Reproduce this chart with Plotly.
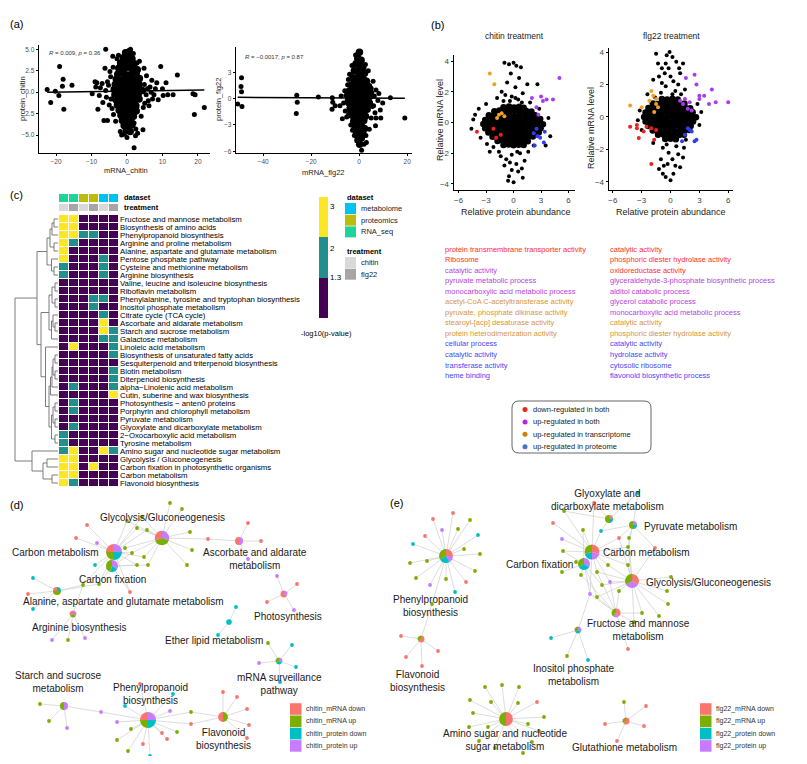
import plotly.graph_objects as go

W, H = 807, 764
OFF = 8                      # the page body margin in the browser
FW, FH = W - 2 * OFF, H - 2 * OFF
FONT = "Liberation Sans"

# ====================== DATA ======================
# (a) log2 fold change: mRNA (x) vs protein (y); dense core and sparse points
a_chitin_dense = [
    (-0.4, 4.6), (0.6, 4.7), (-1.0, 4.0), (0.3, 4.1), (1.4, 3.9), (-1.8, 3.4), (-0.5, 3.3), (0.8, 3.5), (2.0, 3.3),
    (-2.3, 2.8), (-0.9, 2.7), (0.4, 2.9), (1.7, 2.8), (2.9, 2.6), (-2.6, 2.1), (-1.2, 2.2), (0.1, 2.0), (1.3, 2.1),
    (2.6, 2.2), (-3.0, 1.5), (-1.6, 1.4), (-0.3, 1.6), (1.0, 1.5), (2.3, 1.4), (3.5, 1.6), (-3.3, 0.9), (-2.0, 0.8),
    (-0.6, 1.0), (0.7, 0.9), (2.0, 0.8), (3.4, 0.9), (-3.6, 0.3), (-2.2, 0.2), (-0.9, 0.3), (0.4, 0.4), (1.8, 0.2),
    (3.1, 0.3), (4.3, 0.2), (-3.4, -0.3), (-2.0, -0.4), (-0.7, -0.2), (0.6, -0.3), (1.9, -0.4), (3.2, -0.2),
    (-3.1, -0.9), (-1.8, -1.0), (-0.5, -0.8), (0.8, -0.9), (2.1, -1.0), (3.4, -0.8), (-2.7, -1.5), (-1.4, -1.6),
    (-0.1, -1.4), (1.2, -1.5), (2.5, -1.6), (-2.2, -2.1), (-0.9, -2.2), (0.3, -2.0), (1.5, -2.1), (2.6, -2.2),
    (-1.7, -2.7), (-0.5, -2.8), (0.7, -2.6), (1.8, -2.8), (-1.3, -3.3), (-0.1, -3.4), (1.1, -3.2), (-0.8, -3.9),
    (0.4, -4.0), (1.4, -3.8), (-0.2, -4.5), (0.9, -4.6),
]
a_chitin_sparse = [
    (-22.5, 0.3), (-21.5, -1.2), (-20.2, 0.1), (-19.0, 3.0), (-19.2, -0.4), (-18.0, 1.5), (-18.2, 0.7),
    (-17.8, -2.0), (-15.5, 0.8), (-9.8, -0.2), (-8.5, 1.1), (-8.2, -2.0), (-7.5, 0.5), (-6.5, -3.3), (-5.5, -3.3),
    (-6.0, 5.0), (-6.2, 2.8), (-5.5, 1.2), (-5.0, -1.5), (-4.8, 2.4), (-4.5, -0.8), (-4.0, 4.2), (-3.8, -2.6),
    (-1.5, -5.0), (-0.8, -4.9), (0.0, -5.3), (1.0, 5.0), (2.0, -6.5), (2.5, -4.3), (3.0, -4.8), (4.5, -4.4),
    (3.5, 3.6), (4.0, -2.8), (4.8, 2.8), (5.5, 1.9), (5.0, -1.3), (6.0, -1.0), (6.5, 0.6), (7.0, 1.4), (7.2, -0.8),
    (8.0, 0.4), (9.5, 3.0), (10.0, 0.4), (10.2, -0.4), (11.0, 1.1), (11.5, -0.3), (13.0, -0.3), (14.2, 2.0),
    (18.6, -0.2), (19.2, -0.3), (19.0, -2.6), (21.8, -1.8), (-2.8, 3.9), (2.8, 3.4), (-3.2, -3.4), (2.0, -3.6),
    (-9.0, 1.2), (-8.8, 0.6), (-7.8, -0.4), (-7.0, 1.0), (-6.8, -1.2), (-6.0, 0.2), (-5.8, -0.6), (-5.2, 0.8),
    (-4.6, 1.8), (-4.2, -1.9), (-3.9, 2.9), (4.6, -1.8), (4.9, 0.9), (5.4, -0.3), (5.8, 0.4), (6.2, -1.6),
    (6.8, 0.0), (7.6, -0.3), (8.4, 1.1), (8.8, -0.9), (-2.4, 4.3), (1.8, 4.5), (-1.9, -4.6), (2.4, -5.1),
]
a_flg22_dense = [
    (0.1, 5.3), (-0.6, 4.6), (0.8, 4.4), (-1.3, 4.0), (0.2, 3.8), (1.5, 3.6), (-2.0, 3.2), (-0.6, 3.1), (0.9, 3.0),
    (2.2, 2.9), (-2.6, 2.4), (-1.1, 2.3), (0.4, 2.4), (1.8, 2.2), (3.0, 2.0), (-3.1, 1.6), (-1.6, 1.7), (-0.2, 1.6),
    (1.2, 1.7), (2.6, 1.5), (3.9, 1.4), (-4.0, 0.9), (-2.6, 1.0), (-1.2, 0.9), (0.2, 1.0), (1.6, 0.9), (3.0, 0.8),
    (4.4, 0.7), (-4.4, 0.2), (-3.0, 0.3), (-1.6, 0.2), (-0.2, 0.3), (1.2, 0.2), (2.6, 0.1), (4.0, 0.2), (-4.2, -0.5),
    (-2.8, -0.4), (-1.4, -0.5), (0.0, -0.4), (1.4, -0.5), (2.8, -0.6), (4.2, -0.5), (-3.7, -1.2), (-2.3, -1.1),
    (-0.9, -1.2), (0.5, -1.1), (1.9, -1.3), (3.3, -1.2), (-3.0, -1.9), (-1.6, -1.8), (-0.2, -1.9), (1.2, -1.8),
    (2.6, -2.0), (-2.3, -2.6), (-0.9, -2.5), (0.5, -2.6), (1.9, -2.5), (-1.7, -3.2), (-0.3, -3.3), (1.0, -3.2),
    (2.2, -3.4), (-1.1, -3.9), (0.3, -4.0), (1.5, -3.9), (-0.4, -4.6), (0.9, -4.5), (0.2, -5.2),
]
a_flg22_sparse = [
    (-49.0, 2.4), (-49.2, 1.4), (-49.0, 0.8), (-48.8, -0.9), (-50.6, -0.6), (-26.0, 0.4), (-25.8, -0.4),
    (-26.2, -1.7), (-17.0, 0.2), (-11.2, 0.1), (-11.0, -0.4), (-11.3, -1.2), (-10.0, -0.8), (-8.0, -0.8),
    (-7.0, -2.3), (-5.2, -2.1), (-6.0, 0.9), (-4.8, 1.6), (-4.2, -1.0), (-4.0, 2.8), (-3.5, -3.0), (5.0, -2.2),
    (7.0, -2.2), (9.0, -2.2), (6.8, -3.1), (8.8, -1.3), (9.8, -0.5), (7.0, 1.0), (5.8, 2.0), (5.0, 1.2), (4.5, -0.4),
    (6.0, -0.8), (13.0, 0.1), (19.0, -2.2), (3.0, -5.0), (2.0, -5.2), (1.0, -5.9), (-1.0, -4.8), (-2.0, -4.2),
    (3.8, 3.2), (4.2, -3.5), (-1.5, 5.0),
    (-7.5, 0.3), (-6.5, -0.5), (-5.8, -1.4), (-5.5, 0.4), (-5.0, -0.2), (-4.6, 0.6), (-4.5, 2.2), (-4.4, -1.8),
    (5.0, 0.2), (5.5, -0.9), (5.2, 0.7), (6.3, 0.3), (6.6, -1.6), (7.8, -0.2), (8.2, 0.6), (-3.0, 3.8), (2.6, 3.9),
    (-2.8, -3.6), (2.8, -4.2),
]
a_chitin_fit = [0.12, 0.006]     # intercept, slope
a_flg22_fit = [0.08, -0.0014]
a_chitin_label = "<i>R</i> = 0.009, <i>p</i> = 0.36"
a_flg22_label = "<i>R</i> = −0.0017, <i>p</i> = 0.87"

# (b) relative protein abundance (x) vs relative mRNA level (y)
b_chitin_dense = [
    (-1.1, 1.0), (-0.5, 1.04), (0.05, 0.98), (0.6, 1.02), (1.1, 0.96),
    (-2.1, 0.74), (-1.55, 0.78), (-1.0, 0.75), (-0.4, 0.72), (0.2, 0.79), (0.8, 0.74), (1.35, 0.77), (1.95, 0.72),
    (-2.7, 0.47), (-2.2, 0.44), (-1.6, 0.5), (-1.05, 0.46), (-0.5, 0.49), (0.1, 0.43), (0.65, 0.48), (1.25, 0.45),
    (1.8, 0.5), (2.35, 0.47),
    (-3.1, 0.17), (-2.6, 0.21), (-2.05, 0.19), (-1.5, 0.16), (-0.95, 0.22), (-0.4, 0.18), (0.2, 0.2), (0.75, 0.15),
    (1.3, 0.21), (1.85, 0.19), (2.45, 0.17), (2.9, 0.22),
    (-3.3, -0.1), (-2.8, -0.13), (-2.25, -0.08), (-1.7, -0.12), (-1.15, -0.09), (-0.6, -0.11), (0.0, -0.1),
    (0.55, -0.07), (1.1, -0.12), (1.7, -0.09), (2.25, -0.11), (2.8, -0.08), (3.2, -0.12),
    (-3.1, -0.38), (-2.6, -0.41), (-2.05, -0.36), (-1.5, -0.4), (-0.95, -0.37), (-0.4, -0.39), (0.2, -0.35),
    (0.75, -0.41), (1.3, -0.38), (1.85, -0.36), (2.45, -0.4), (2.95, -0.37),
    (-2.75, -0.66), (-2.2, -0.64), (-1.7, -0.69), (-1.15, -0.65), (-0.6, -0.68), (0.0, -0.64), (0.55, -0.67),
    (1.1, -0.63), (1.7, -0.68), (2.25, -0.66), (2.75, -0.65),
    (-2.3, -0.93), (-1.75, -0.91), (-1.2, -0.96), (-0.65, -0.92), (-0.1, -0.95), (0.45, -0.9), (1.0, -0.94),
    (1.55, -0.96), (2.1, -0.91),
    (-1.75, -1.2), (-1.2, -1.18), (-0.65, -1.23), (-0.1, -1.19), (0.45, -1.21), (1.0, -1.17), (1.55, -1.22),
    (-1.1, -1.46), (-0.55, -1.44), (0.0, -1.49), (0.55, -1.45), (1.1, -1.47),
]
b_chitin_sparse = [
    (-4.6, -0.4), (-4.4, 0.2), (-4.2, 0.5), (-3.8, 0.9), (-3.6, -1.0), (-3.0, 1.2), (-2.6, -1.9), (-2.2, -1.6),
    (-1.8, 1.6), (-1.3, 2.0), (-1.0, 3.9), (-0.7, 2.6), (-0.5, 3.8), (-0.3, 3.2), (-0.2, 1.7), (0.0, 3.9),
    (0.2, 2.3), (0.3, 3.7), (0.6, 2.9), (0.8, 3.6), (0.5, 1.5), (1.0, 1.9), (1.5, 2.5), (1.8, 1.3), (2.6, 2.5),
    (2.8, 0.9), (3.5, -1.5), (4.0, -0.9), (3.8, 0.3), (-0.5, -3.5), (0.0, -3.9), (-0.6, -3.8), (0.5, -3.2),
    (0.9, -3.0), (-1.0, -2.8), (1.2, -2.5), (0.7, -2.0), (-0.8, -2.4), (-0.2, -2.1), (0.3, -2.7), (1.6, -1.9),
    (-1.6, -1.9), (2.2, -1.5), (-2.9, -1.4), (-1.1, 1.4), (0.9, 1.3), (-0.4, 1.4), (-0.9, 1.8), (0.2, 1.6),
    (-0.4, -2.6), (0.4, -1.9), (-0.2, -3.1), (1.0, -3.6), (-1.4, -2.2),
]
b_chitin_down_both = [(-4.0, -0.6), (-1.9, -1.0), (-1.4, -0.8), (-2.2, -0.4)]
b_chitin_up_both = [(5.0, 2.9), (2.0, 1.6), (3.0, 1.7), (3.2, 1.4), (3.6, 1.5), (4.3, 1.5), (2.7, 0.5), (2.5, 1.0)]
b_chitin_up_tx = [(-2.6, 3.2), (-2.1, 2.5), (-1.6, 0.5), (-1.3, 0.6), (-1.0, 0.4), (-1.8, 0.3)]
b_chitin_up_prot = [(2.5, -0.4), (2.6, -0.9), (2.9, -1.0), (3.3, -1.3), (3.4, -0.6), (2.3, -1.5), (2.2, -0.7)]

b_flg22_dense = [
    (-0.9, 1.1), (-0.35, 1.07), (0.2, 1.12), (0.75, 1.08),
    (-1.85, 0.83), (-1.3, 0.8), (-0.75, 0.85), (-0.2, 0.81), (0.35, 0.84), (0.9, 0.79), (1.45, 0.83),
    (-2.3, 0.56), (-1.75, 0.58), (-1.2, 0.53), (-0.65, 0.57), (-0.1, 0.54), (0.45, 0.59), (1.0, 0.55), (1.55, 0.56),
    (2.05, 0.54),
    (-2.6, 0.28), (-2.05, 0.26), (-1.5, 0.31), (-0.95, 0.27), (-0.4, 0.29), (0.15, 0.25), (0.7, 0.3), (1.25, 0.28),
    (1.8, 0.26), (2.3, 0.29),
    (-2.75, 0.0), (-2.2, 0.03), (-1.65, -0.02), (-1.1, 0.01), (-0.55, -0.03), (0.0, 0.02), (0.55, -0.01),
    (1.1, 0.03), (1.65, -0.02), (2.2, 0.01), (2.65, -0.01),
    (-2.6, -0.28), (-2.05, -0.3), (-1.5, -0.26), (-0.95, -0.29), (-0.4, -0.27), (0.15, -0.31), (0.7, -0.28),
    (1.25, -0.26), (1.8, -0.29), (2.35, -0.28),
    (-2.3, -0.56), (-1.75, -0.54), (-1.2, -0.59), (-0.65, -0.55), (-0.1, -0.57), (0.45, -0.53), (1.0, -0.58),
    (1.55, -0.56), (2.1, -0.55),
    (-1.85, -0.83), (-1.3, -0.85), (-0.75, -0.81), (-0.2, -0.84), (0.35, -0.82), (0.9, -0.86), (1.45, -0.83),
    (1.95, -0.8),
    (-1.3, -1.1), (-0.75, -1.08), (-0.2, -1.12), (0.35, -1.09), (0.9, -1.11), (1.4, -1.1),
    (-0.55, -1.36), (0.0, -1.34), (0.55, -1.38),
]
b_flg22_sparse = [
    (-1.5, 3.9), (-0.1, 4.0), (-0.4, 3.8), (0.2, 3.7), (0.6, 3.4), (-0.9, 3.0), (-1.3, 3.3), (1.0, 2.7),
    (-1.2, 2.5), (0.3, 2.2), (-0.5, 1.9), (0.8, 2.0), (1.3, 3.3), (-1.8, 2.3), (-0.6, 2.7), (0.5, 1.6), (-0.2, 3.0),
    (1.5, 1.7), (-2.4, 1.4), (-3.2, 0.4), (-3.4, -0.2), (-3.0, -0.8), (3.0, -0.5), (3.2, 0.3), (2.8, 0.8),
    (-0.8, -1.9), (0.6, -1.8), (-1.0, -2.6), (-0.5, -3.7), (0.0, -3.9), (0.3, -3.5), (0.5, -3.0), (1.0, -3.1),
    (-1.2, -3.2), (0.8, -2.3), (-0.2, -2.2), (-0.3, -2.9), (1.3, -2.5), (-0.8, -3.5), (1.6, -1.4), (-1.8, -1.6),
    (-1.0, 1.5), (0.2, 1.4), (1.1, 1.4), (-1.6, 1.2), (-0.9, 2.1), (0.0, 2.5), (-0.5, 3.3), (0.9, 3.0),
    (-0.4, -1.7), (0.2, -2.6), (-0.7, -3.0), (1.4, -1.9),
]
b_flg22_down_both = [(-4.2, -0.6), (-3.5, -0.5), (-3.5, -0.7), (-3.3, -1.3), (-2.8, -0.9), (-2.5, -0.6),
                     (-2.0, -0.7), (-1.7, -1.4), (-2.0, -2.9), (-1.5, -0.8)]
b_flg22_up_both = [(1.0, 1.0), (1.3, 0.8), (1.5, 1.1), (2.0, 0.9), (2.5, 2.6), (2.7, 2.0), (3.0, 1.1), (3.0, 1.3),
                   (3.5, 1.3), (4.0, 0.8), (4.3, 1.7), (4.7, 0.9), (6.0, 0.9), (1.6, 2.4), (1.8, 0.5), (2.2, 0.4)]
b_flg22_up_tx = [(-4.2, 0.7), (-3.0, 0.6), (-2.0, 1.6), (-1.8, 1.3), (-1.5, 0.8), (-1.3, 0.6), (-1.7, 0.3),
                 (-2.2, 1.0), (-1.5, 1.1)]
b_flg22_up_prot = [(1.5, -1.1), (2.0, -0.8), (2.2, -0.9), (2.5, -1.5), (2.7, -1.4), (1.2, -1.5), (1.8, -0.7)]

b_group_names = ["down-regulated in both", "up-regulated in both",
                 "up-regulated in transcriptome", "up-regulated in proteome"]

# GO / KEGG terms listed under (b)
go_col1_terms = ["protein transmembrane transporter activity", "Ribosome", "catalytic activity",
                 "pyruvate metabolic process", "monocarboxylic acid metabolic process",
                 "acetyl-CoA C-acetyltransferase activity", "pyruvate, phosphate dikinase activity",
                 "stearoyl-[acp] desaturase activity", "protein heterodimerization activity",
                 "cellular process", "catalytic activity", "transferase activity", "heme binding"]
go_col1_groups = [0, 0, 1, 1, 1, 2, 2, 2, 2, 3, 3, 3, 3]
go_col2_terms = ["catalytic activity", "phosphoric diester hydrolase activity", "oxidoreductase activity",
                 "glyceraldehyde-3-phosphate biosynthetic process", "alditol catabolic process",
                 "glycerol catabolic process", "monocarboxylic acid metabolic process", "catalytic activity",
                 "phosphoric diester hydrolase activity", "catalytic activity", "hydrolase activity",
                 "cytosolic ribosome", "flavonoid biosynthetic process"]
go_col2_groups = [0, 0, 0, 1, 1, 1, 1, 2, 2, 3, 3, 3, 3]

# (c) KEGG enrichment heatmap: P = 1.3-2, T = 2-3, Y = >3  (-log10 p)
heat_pathways = [
    "Fructose and mannose metabolism", "Biosynthesis of amino acids", "Phenylpropanoid biosynthesis",
    "Arginine and proline metabolism", "Alanine, aspartate and glutamate metabolism", "Pentose phosphate pathway",
    "Cysteine and methionine metabolism", "Arginine biosynthesis", "Valine, leucine and isoleucine biosynthesis",
    "Riboflavin metabolism", "Phenylalanine, tyrosine and tryptophan biosynthesis", "Inositol phosphate metabolism",
    "Citrate cycle (TCA cycle)", "Ascorbate and aldarate metabolism", "Starch and sucrose metabolism",
    "Galactose metabolism", "Linoleic acid metabolism", "Biosynthesis of unsaturated fatty acids",
    "Sesquiterpenoid and triterpenoid biosynthesis", "Biotin metabolism", "Diterpenoid biosynthesis",
    "alpha−Linolenic acid metabolism", "Cutin, suberine and wax biosynthesis", "Photosynthesis − anten0 proteins",
    "Porphyrin and chlorophyll metabolism", "Pyruvate metabolism", "Glyoxylate and dicarboxylate metabolism",
    "2−Oxocarboxylic acid metabolism", "Tyrosine metabolism", "Amino sugar and nucleotide sugar metabolism",
    "Glycolysis / Gluconeogenesis", "Carbon fixation in photosynthetic organisms", "Carbon metabolism",
    "Flavonoid biosynthesis",
]
heat_levels = [
    "YYPPPP", "YYPPPP", "YYTTPP", "YTPPPP", "YPPPPP", "YPPPTP", "TPPPTP", "TPPPTP", "PPPPPP", "PPPPPP",
    "PPPTTP", "PPPTPP", "PPPPTP", "PPPPYP", "PPPPYT", "PPPPTT", "PYPPPT", "PPPPPT", "PPPPPP", "PPPPPT",
    "PPPPPT", "PTPPPT", "PPPPPY", "PTPPPP", "PTPPPP", "PPPPPP", "PTPPPP", "TPPPPP", "TPPPPP", "TYPPYT",
    "YYPPPP", "YYPYPP", "YYPPPP", "YTPPPP",
]
heat_level_names = ["P", "T", "Y"]
heat_legend_ticks = ["1.3", "2", "3"]
col_dataset = ["RNA_seq", "RNA_seq", "proteomics", "proteomics", "metabolome", "metabolome"]
col_treatment = ["chitin", "flg22", "chitin", "flg22", "chitin", "flg22"]
dataset_levels = ["metabolome", "proteomics", "RNA_seq"]
treatment_levels = ["chitin", "flg22"]
# row dendrogram: (merge height, left, right); leaves are row indices
heat_tree = (43,
             (21,
              (11, (8, (6, (4, 0, 1), 2), (4, 3, 4)), (6.5, 5, (4, 6, 7))),
              (17,
               (9, (6, (3, 8, 9), (3, 10, 11)), (6.5, (5, 12, (3, 13, 14)), 15)),
               (12.5, 16,
                (9, (7.5, (6, (5, (3, 17, 18), (3, 19, 20)), 21), 22),
                 (6.5, (5, (3, 23, 24), (3, 25, 26)), (3, 27, 28)))))),
             (26, 29, (15, (11, 30, 31), (6, 32, 33))))

# (d)/(e) gene-concept networks; categories: mRNA down, mRNA up, protein down, protein up
net_cats = ["mRNA down", "mRNA up", "protein down", "protein up"]
d_hub_names = ["Glycolysis/Gluconeogenesis", "Carbon metabolism", "Carbon fixation",
               "Ascorbate and aldarate<br>metabolism", "Alanine, aspartate and glutamate metabolism",
               "Arginine biosynthesis", "Photosynthesis", "Ether lipid metabolism",
               "mRNA surveillance<br>pathway", "Starch and sucrose<br>metabolism",
               "Phenylpropanoid<br>biosynthesis", "Flavonoid<br>biosynthesis"]
d_hub_x = [162, 114, 112, 239, 57, 73, 284, 229, 279, 64, 148, 223]
d_hub_y = [53, 67, 81, 56, 106, 129, 109, 137, 176, 221, 235, 232]
d_hub_counts = [[4, 5, 0, 4], [4, 4, 4, 4], [0, 4, 2, 3], [2, 0, 0, 2], [1, 2, 1, 0], [1, 1, 0, 1],
                [2, 0, 0, 1], [0, 0, 2, 0], [0, 1, 1, 1], [0, 2, 0, 2], [4, 4, 4, 4], [3, 3, 0, 0]]
d_label_x = [162, 55, 112, 255, 123, 79, 288, 214, 279, 58, 150, 223]
d_label_y = [32, 67, 94, 73.5, 116, 142, 131, 155, 199, 196.5, 209, 254]
d_genes = [
    (170, 18, 1, [0]), (182, 24, 1, [0]), (142, 32, 1, [0, 1]), (127, 36, 1, [1, 0]), (137, 43, 1, [0, 1]),
    (147, 45, 1, [0, 1]), (190, 47, 1, [0]), (208, 54, 0, [0, 3]), (192, 65, 1, [0]), (187, 80, 1, [0]),
    (87, 40, 0, [1]), (76, 53, 0, [1]), (97, 58, 3, [1]), (125, 63, 1, [0, 1]), (132, 68, 1, [0, 1, 2]),
    (144, 72, 1, [0, 1]), (137, 80, 1, [1, 2]), (148, 80, 1, [0, 2]), (95, 80, 2, [1]), (130, 107, 0, [1, 2]),
    (83, 100, 1, [1, 4, 5]), (99, 99, 1, [1, 2, 4]), (248, 38, 0, [3]), (261, 56, 0, [3]), (248, 74, 3, [3]),
    (33, 93, 2, [4]), (28, 109, 0, [4]), (33, 124, 2, [4]), (52, 155, 3, [5]), (68, 155, 1, [5]), (85, 153, 3, [5]),
    (277, 91, 3, [6]), (297, 99, 0, [6]), (267, 117, 0, [6]), (294, 125, 3, [6]), (236, 122, 2, [7]),
    (218, 150, 2, [7]), (268, 158, 1, [8]), (292, 160, 2, [8]), (259, 178, 3, [8]), (296, 182, 2, [8]),
    (280, 197, 2, [8]), (40, 219, 1, [9]), (49, 236, 1, [9]), (67, 243, 3, [9]), (101, 227, 3, [9, 10]),
    (140, 199, 0, [10]), (173, 209, 2, [10]), (125, 221, 2, [10]), (117, 237, 3, [10]), (170, 226, 3, [10]),
    (131, 244, 1, [10]), (117, 255, 1, [10]), (143, 259, 0, [10]), (162, 248, 0, [10]), (167, 254, 0, [10]),
    (177, 247, 1, [10]), (128, 266, 1, [10]), (150, 271, 2, [10]), (191, 227, 1, [10, 11]), (191, 239, 0, [10, 11]),
    (223, 207, 0, [11]), (237, 212, 0, [11]), (247, 224, 0, [11]), (249, 240, 0, [11]), (247, 253, 0, [11]),
]
e_hub_names = ["Phenylpropanoid<br>biosynthesis", "Flavonoid<br>biosynthesis",
               "Glyoxylate and<br>dicarboxylate metabolism", "Pyruvate metabolism", "Carbon metabolism",
               "Carbon fixation", "Glycolysis/Gluconeogenesis", "Fructose and mannose<br>metabolism",
               "Inositol phosphate<br>metabolism", "Amino sugar and nucleotide<br>sugar metabolism",
               "Glutathione metabolism"]
e_hub_x = [56, 31, 219, 243, 202, 194, 242, 226, 188, 116, 236]
e_hub_y = [71, 154, 34, 40, 67, 79, 96, 128, 145, 234, 236]
e_hub_counts = [[3, 4, 3, 2], [2, 1, 0, 0], [1, 2, 1, 0], [0, 2, 1, 1], [4, 4, 3, 3], [0, 3, 3, 3],
                [4, 4, 0, 4], [2, 2, 0, 1], [0, 1, 1, 1], [6, 6, 0, 0], [2, 1, 0, 0]]
e_label_x = [40, 27, 217, 252, 211, 185, 254, 248, 184, 115, 234]
e_label_y = [120.5, 195.5, 15, 41, 67, 79, 97, 145, 189.5, 255, 262]
e_label_anchor = ["center", "center", "center", "left", "left", "right", "left", "center", "center", "center",
                  "center"]
e_genes = [
    (63, 28, 0, [0]), (43, 34, 0, [0]), (80, 35, 1, [0]), (52, 45, 3, [0]), (68, 44, 1, [0]), (35, 51, 0, [0]),
    (88, 50, 2, [0]), (23, 59, 2, [0]), (74, 64, 1, [0]), (90, 69, 1, [0]), (37, 76, 1, [0]), (20, 78, 1, [0]),
    (85, 86, 1, [0]), (26, 93, 1, [0]), (56, 94, 1, [0]), (40, 100, 3, [0]), (76, 97, 0, [0]), (65, 107, 2, [0]),
    (42, 119, 1, [0, 1]), (11, 151, 0, [1]), (48, 166, 0, [1]), (16, 172, 0, [1]), (32, 181, 0, [1]),
    (95, 202, 1, [9]), (112, 200, 1, [9]), (129, 202, 1, [9]), (80, 215, 1, [9]), (101, 217, 1, [9]),
    (128, 218, 1, [9]), (147, 217, 0, [9]), (83, 228, 1, [9]), (154, 232, 1, [9]), (79, 242, 1, [9]),
    (98, 242, 1, [9]), (138, 239, 1, [9]), (149, 246, 1, [9]), (89, 256, 1, [9]), (105, 263, 1, [9]),
    (133, 268, 1, [9]), (142, 257, 1, [9]),
    (234, 217, 1, [10]), (256, 221, 0, [10]), (215, 239, 0, [10]), (254, 241, 0, [10]), (227, 256, 0, [10]),
    (163, 38, 0, [4]), (174, 26, 1, [4, 2]), (204, 18, 0, [2, 4]), (248, 8, 2, [3, 2]), (193, 45, 1, [4, 5]),
    (211, 46, 2, [2, 4, 3]), (172, 54, 3, [4]), (173, 66, 1, [4, 5]), (229, 53, 0, [3, 4, 6]), (239, 53, 1, [3, 6]),
    (238, 62, 1, [3, 6, 4]), (265, 63, 0, [6, 3]), (186, 77, 1, [5]), (172, 87, 1, [5]), (218, 80, 1, [4, 6]),
    (238, 80, 1, [4, 6]), (207, 87, 1, [4, 7, 6]), (191, 90, 1, [5, 7]), (281, 92, 1, [6]), (212, 100, 1, [5, 6]),
    (220, 97, 3, [4, 6, 7]), (229, 106, 1, [6, 7]), (277, 106, 1, [6]), (200, 109, 3, [4, 5, 7, 8]),
    (207, 112, 1, [5, 6, 7]), (278, 119, 1, [6]), (252, 128, 1, [6, 7]), (269, 131, 1, [6]), (244, 137, 1, [7, 6]),
    (238, 164, 0, [7]), (161, 153, 2, [8]), (177, 171, 1, [8]), (198, 175, 2, [8]),
]

# ====================== STYLE ======================
PT_GROUP_COLORS = ["#F02020", "#A93CF0", "#F0A02A", "#2F3FF0"]
GO_TEXT_COLORS = ["#FF2E2E", "#B43FE0", "#D9953A", "#4747F5"]
LEG_DOT_COLORS = ["#E7261E", "#C21FE6", "#D07F0E", "#4472C4"]
HEAT_COLORS = {"P": "#440154", "T": "#21908C", "Y": "#FDE725"}
DATASET_COLORS = {"metabolome": "#00C2F2", "proteomics": "#BCBD0A", "RNA_seq": "#20D39B"}
TREAT_COLORS = {"chitin": "#D9D9D9", "flg22": "#A6A6A6"}
NET_COLORS = ["#F8766D", "#7CAE00", "#00BFC4", "#C77CFF"]


def fx(px):
    return (px - OFF) / FW


def fy(py):
    return 1 - (py - OFF) / FH


def xdom(a, b):
    return [fx(a), fx(b)]


def ydom(top, bottom):
    return [fy(bottom), fy(top)]


fig = go.Figure()
annotations = []
shapes = []


def ann(text, px, py, size=8, color="black", xanchor="center", yanchor="middle", angle=0, xref="paper",
        yref="paper"):
    x = fx(px) if xref == "paper" else px
    y = fy(py) if yref == "paper" else py
    annotations.append(dict(text=text, x=x, y=y, xref=xref, yref=yref, showarrow=False, xanchor=xanchor,
                            yanchor=yanchor, textangle=angle, font=dict(size=size, color=color, family=FONT)))


def col(pts, i):
    return [p[i] for p in pts]


def sc_axis(dom, rng, tickvals, ticktext, fs, tc, anchor):
    return dict(domain=dom, range=rng, showline=True, linecolor="black", linewidth=0.8, ticks="outside",
                ticklen=2.5, tickwidth=0.8, tickcolor="black", tickvals=tickvals, ticktext=ticktext,
                tickfont=dict(size=fs, color=tc, family=FONT), showgrid=False, zeroline=False, automargin=False,
                anchor=anchor)


# ---------------- (a) ----------------
for dense, sparse, fit, ax in [(a_chitin_dense, a_chitin_sparse, a_chitin_fit, ""),
                               (a_flg22_dense, a_flg22_sparse, a_flg22_fit, "2")]:
    for pts, sz in [(dense, 7.5), (sparse, 5)]:
        fig.add_trace(go.Scatter(x=col(pts, 0), y=col(pts, 1), mode="markers", xaxis="x" + ax, yaxis="y" + ax,
                                 marker=dict(color="black", size=sz, line=dict(width=0)), showlegend=False))
    allx = col(dense, 0) + col(sparse, 0)
    x0, x1 = min(allx), max(allx)
    fig.add_trace(go.Scatter(x=[x0, x1], y=[fit[0] + fit[1] * x0, fit[0] + fit[1] * x1], mode="lines",
                             xaxis="x" + ax, yaxis="y" + ax, line=dict(color="black", width=1.5),
                             showlegend=False))

# ---------------- (b) ----------------
for groups, ax in [([b_chitin_dense, b_chitin_sparse, b_chitin_down_both, b_chitin_up_both, b_chitin_up_tx,
                     b_chitin_up_prot], "3"),
                   ([b_flg22_dense, b_flg22_sparse, b_flg22_down_both, b_flg22_up_both, b_flg22_up_tx,
                     b_flg22_up_prot], "4")]:
    colors = ["black", "black"] + PT_GROUP_COLORS
    sizes = [6.5, 4, 4, 4, 4, 4]
    for pts, c, sz in zip(groups, colors, sizes):
        fig.add_trace(go.Scatter(x=col(pts, 0), y=col(pts, 1), mode="markers", xaxis="x" + ax, yaxis="y" + ax,
                                 marker=dict(color=c, size=sz, line=dict(width=0)), showlegend=False))

# ---------------- (c) heatmap ----------------
lvl_val = {k: i + 0.5 for i, k in enumerate(heat_level_names)}
hz = [[lvl_val[ch] for ch in row] for row in heat_levels]
P, T, Y = HEAT_COLORS["P"], HEAT_COLORS["T"], HEAT_COLORS["Y"]
bar_top, bar_bot = 197, 318
tick_pos = {"1.3": 277, "2": 248, "3": 206}
fig.add_trace(go.Heatmap(
    z=hz, x=list(range(6)), y=list(range(len(heat_pathways))), zmin=0, zmax=3,
    colorscale=[[0, P], [1 / 3, P], [1 / 3, T], [2 / 3, T], [2 / 3, Y], [1, Y]],
    xgap=1, ygap=1, xaxis="x5", yaxis="y5", hoverinfo="skip",
    colorbar=dict(x=fx(319), xanchor="left", y=fy(bar_bot), yanchor="bottom", len=bar_bot - bar_top,
                  lenmode="pixels", thickness=9, thicknessmode="pixels", outlinewidth=0, xpad=0, ypad=0,
                  tickvals=[3 * (bar_bot - tick_pos[t]) / (bar_bot - bar_top) for t in heat_legend_ticks],
                  ticktext=heat_legend_ticks, ticks="", tickfont=dict(size=8, color="black", family=FONT))))

ann_levels = dataset_levels + treatment_levels
ann_colors = [DATASET_COLORS[k] for k in dataset_levels] + [TREAT_COLORS[k] for k in treatment_levels]
nlev = len(ann_levels)
ann_cs = []
for i, c in enumerate(ann_colors):
    ann_cs += [[i / nlev, c], [(i + 1) / nlev, c]]
az = [[ann_levels.index(d) for d in col_dataset], [ann_levels.index(t) for t in col_treatment]]
fig.add_trace(go.Heatmap(z=az, x=list(range(6)), y=[0, 1], zmin=-0.5, zmax=nlev - 0.5, colorscale=ann_cs,
                         showscale=False, xgap=1, ygap=2, xaxis="x6", yaxis="y6", hoverinfo="skip"))

# dendrogram
dx, dy = [], []


def walk(node):
    if isinstance(node, int):
        return 0, node
    h, l, r = node
    hl, yl = walk(l)
    hr, yr = walk(r)
    dx.extend([hl, h, h, hr, None])
    dy.extend([yl, yl, yr, yr, None])
    return h, (yl + yr) / 2


walk(heat_tree)
fig.add_trace(go.Scatter(x=dx, y=dy, mode="lines", xaxis="x7", yaxis="y7",
                         line=dict(color="#6E6E6E", width=0.9), showlegend=False, hoverinfo="skip"))


# ---------------- (d)/(e) networks ----------------
def network(hx, hy, counts, genes, ax, origin, order, prefix):
    ex, ey = [], []
    for g in genes:
        for h in g[3]:
            ex += [g[0], hx[h], None]
            ey += [g[1], hy[h], None]
    fig.add_trace(go.Scatter(x=ex, y=ey, mode="lines", xaxis="x" + ax, yaxis="y" + ax,
                             line=dict(color="#CFCFCF", width=0.7), showlegend=False, hoverinfo="skip"))
    fig.add_trace(go.Scatter(x=col(genes, 0), y=col(genes, 1), mode="markers", xaxis="x" + ax, yaxis="y" + ax,
                             marker=dict(color=[NET_COLORS[g[2]] for g in genes], size=3.8, line=dict(width=0)),
                             showlegend=False))
    for x, y, cnt in zip(hx, hy, counts):
        r = 2.0 * sum(cnt) ** 0.5
        px, py = origin[0] + x, origin[1] + y
        fig.add_trace(go.Pie(values=[cnt[i] for i in order], labels=[prefix + net_cats[i] for i in order],
                             marker=dict(colors=[NET_COLORS[i] for i in order], line=dict(width=0)),
                             domain=dict(x=[fx(px - r), fx(px + r)], y=[fy(py + r), fy(py - r)]),
                             sort=False, direction="clockwise", rotation=0, textinfo="none",
                             hoverinfo="label+value", showlegend=False))


D_ORIGIN = (0, 485)
E_ORIGIN = (390, 485)
network(d_hub_x, d_hub_y, d_hub_counts, d_genes, "8", D_ORIGIN, [3, 2, 1, 0], "chitin_")
network(e_hub_x, e_hub_y, e_hub_counts, e_genes, "9", E_ORIGIN, [0, 3, 2, 1], "flg22_")

for name, x, y in zip(d_hub_names, d_label_x, d_label_y):
    ann(name, x, y, size=10, color="#1A1A1A", xref="x8", yref="y8")
for name, x, y, a in zip(e_hub_names, e_label_x, e_label_y, e_label_anchor):
    ann(name, x, y, size=10, color="#1A1A1A", xanchor=a, xref="x9", yref="y9")

# network legends
for prefix, bx in [("chitin_", 290), ("flg22_", 700)]:
    for i, c in enumerate(net_cats):
        yc = 709 + 12.3 * i
        shapes.append(dict(type="rect", xref="paper", yref="paper", x0=fx(bx), x1=fx(bx + 11.5),
                           y0=fy(yc + 5.8), y1=fy(yc - 5.8), fillcolor=NET_COLORS[i], line=dict(width=0)))
        ann(prefix + c, bx + 14, yc, size=7, color="#333333", xanchor="left")

# ---------------- text / legends ----------------
ann("(a)", 16, 24, size=11)
ann("(b)", 437, 25, size=11)
ann("(c)", 16, 195, size=11)
ann("(d)", 16, 505, size=11)
ann("(e)", 396, 503, size=11)

ann("mRNA_chitin", 126, 170.5, size=7.5, color="#222222")
ann("protein_chitin", 22, 99, size=7.5, color="#222222", angle=-90)
ann("mRNA_flg22", 323, 172.5, size=7.5, color="#222222")
ann("protein_flg22", 218, 100, size=7.5, color="#222222", angle=-90)
ann(a_chitin_label, 47, 53, size=6, color="#333333", xanchor="left")
ann(a_flg22_label, 243, 57, size=6, color="#333333", xanchor="left")

ann("chitin treatment", 514, 36, size=8.5, color="#222222")
ann("flg22 treatment", 671, 36, size=8.5, color="#222222")
ann("Relative mRNA level", 440, 120, size=9, color="#222222", angle=-90)
ann("Relative mRNA level", 591, 128, size=9, color="#222222", angle=-90)
ann("Relative protein abundance", 516, 212, size=9, color="#222222")
ann("Relative protein abundance", 671, 212, size=9, color="#222222")

for terms, groups, x in [(go_col1_terms, go_col1_groups, 443), (go_col2_terms, go_col2_groups, 608)]:
    for i, (t, g) in enumerate(zip(terms, groups)):
        ann(t, x, 249 + 10.55 * i, size=7.5, color=GO_TEXT_COLORS[g], xanchor="left")


def rrect(x0, y0, x1, y1, r):
    X, Y = fx, fy
    return (f"M {X(x0 + r)},{Y(y0)} L {X(x1 - r)},{Y(y0)} Q {X(x1)},{Y(y0)} {X(x1)},{Y(y0 + r)} "
            f"L {X(x1)},{Y(y1 - r)} Q {X(x1)},{Y(y1)} {X(x1 - r)},{Y(y1)} L {X(x0 + r)},{Y(y1)} "
            f"Q {X(x0)},{Y(y1)} {X(x0)},{Y(y1 - r)} L {X(x0)},{Y(y0 + r)} Q {X(x0)},{Y(y0)} {X(x0 + r)},{Y(y0)} Z")


shapes.append(dict(type="path", xref="paper", yref="paper", path=rrect(512, 401, 651, 453, 7),
                   line=dict(color="#555555", width=0.9), fillcolor="rgba(0,0,0,0)"))
for i, (nm, c) in enumerate(zip(b_group_names, LEG_DOT_COLORS)):
    yc = 409.5 + 12.4 * i
    shapes.append(dict(type="circle", xref="paper", yref="paper", x0=fx(522.5), x1=fx(527.5), y0=fy(yc + 2.5),
                       y1=fy(yc - 2.5), fillcolor=c, line=dict(width=0)))
    ann(nm, 531, yc, size=7.5, color="#222222", xanchor="left")

# heatmap side labels / legends
ann("<b>dataset</b>", 122, 197, size=7.5, xanchor="left")
ann("<b>treatment</b>", 122, 207.5, size=7.5, xanchor="left")
ann("-log10(p-value)", 326, 333, size=7.5)
ann("<b>dataset</b>", 345, 197, size=7.5, xanchor="left")
for i, k in enumerate(dataset_levels):
    yc = 208.5 + 11.7 * i
    shapes.append(dict(type="rect", xref="paper", yref="paper", x0=fx(345), x1=fx(356), y0=fy(yc + 5.5),
                       y1=fy(yc - 5.5), fillcolor=DATASET_COLORS[k], line=dict(width=0)))
    ann(k, 359, yc, size=7.5, color="#222222", xanchor="left")
ann("<b>treatment</b>", 345, 251, size=7.5, xanchor="left")
for i, k in enumerate(treatment_levels):
    yc = 262.5 + 11.7 * i
    shapes.append(dict(type="rect", xref="paper", yref="paper", x0=fx(345), x1=fx(356), y0=fy(yc + 5.5),
                       y1=fy(yc - 5.5), fillcolor=TREAT_COLORS[k], line=dict(width=0)))
    ann(k, 359, yc, size=7.5, color="#222222", xanchor="left")

hidden = dict(visible=False, showgrid=False, zeroline=False, automargin=False)
n_rows = len(heat_pathways)


def net_axes(origin, x0, x1, y0, y1):
    # x0..x1, y0..y1 are page pixels; ranges are the matching network-layout coordinates
    return (dict(domain=xdom(x0, x1), range=[x0 - origin[0], x1 - origin[0]], **hidden),
            dict(domain=ydom(y0, y1), range=[y1 - origin[1], y0 - origin[1]], **hidden))


xd8, yd8 = net_axes(D_ORIGIN, OFF, 390, 491, H - OFF)
xd9, yd9 = net_axes(E_ORIGIN, 390, W - OFF, 491, H - OFF)

fig.update_layout(
    width=FW, height=FH, margin=dict(l=0, r=0, t=0, b=0), paper_bgcolor="white", plot_bgcolor="rgba(0,0,0,0)",
    font=dict(family=FONT), showlegend=False,
    xaxis=sc_axis(xdom(39, 210), [-24.8, 23.4], [-20, -10, 0, 10, 20], None, 6.5, "#4D4D4D", "y"),
    yaxis=sc_axis(ydom(45, 153), [-7.1, 5.5], [-5, -2.5, 0, 2.5, 5], ["−5.0", "−2.5", "0.0", "2.5", "5.0"],
                  6.5, "#4D4D4D", "x"),
    xaxis2=sc_axis(xdom(236, 412), [-51.3, 22], [-40, -20, 0, 20], None, 6.5, "#4D4D4D", "y2"),
    yaxis2=sc_axis(ydom(47, 153), [-6.2, 5.9], [-6, -3, 0, 3], None, 6.5, "#4D4D4D", "x2"),
    xaxis3=sc_axis(xdom(454, 575), [-6.5, 6.7], [-6, -3, 0, 3, 6], None, 8, "#444444", "y3"),
    yaxis3=sc_axis(ydom(55, 190), [-4.4, 4.4], [-4, -2, 0, 2, 4], None, 8, "#444444", "x3"),
    xaxis4=sc_axis(xdom(609, 733), [-6.4, 6.5], [-6, -3, 0, 3, 6], None, 8, "#444444", "y4"),
    yaxis4=sc_axis(ydom(48, 190), [-4.5, 4.25], [-4, -2, 0, 2, 4], None, 8, "#444444", "x4"),
    xaxis5=dict(domain=xdom(59, 119), range=[-0.5, 5.5], showticklabels=False, ticks="", showgrid=False,
                zeroline=False, showline=False, anchor="y5", automargin=False),
    yaxis5=dict(domain=ydom(215, 487), range=[n_rows - 0.5, -0.5], side="right", tickvals=list(range(n_rows)),
                ticktext=heat_pathways, ticks="", tickfont=dict(size=7.8, color="black", family=FONT),
                showgrid=False, zeroline=False, showline=False, anchor="x5", automargin=False),
    xaxis6=dict(domain=xdom(59, 119), range=[-0.5, 5.5], anchor="y6", **hidden),
    yaxis6=dict(domain=ydom(193, 212), range=[1.5, -0.5], anchor="x6", **hidden),
    xaxis7=dict(domain=xdom(13, 58), range=[45, 0], anchor="y7", **hidden),
    yaxis7=dict(domain=ydom(215, 487), range=[n_rows - 0.5, -0.5], anchor="x7", **hidden),
    xaxis8=dict(anchor="y8", **xd8), yaxis8=dict(anchor="x8", **yd8),
    xaxis9=dict(anchor="y9", **xd9), yaxis9=dict(anchor="x9", **yd9),
    annotations=annotations, shapes=shapes,
)

fig.write_html("out.html")
